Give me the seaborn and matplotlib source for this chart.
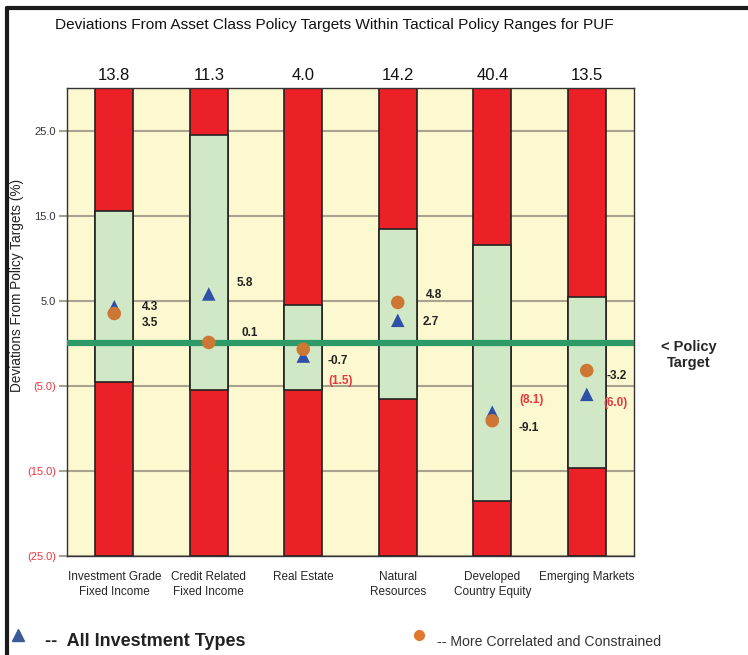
import numpy as np
import pandas as pd
from matplotlib import pyplot as plt
from matplotlib.lines import Line2D
import seaborn as sns

# --- data ---
categories = ['Investment Grade\nFixed Income', 'Credit Related\nFixed Income', 'Real Estate',
              'Natural\nResources', 'Developed\nCountry Equity', 'Emerging Markets']
top_values = ['13.8', '11.3', '4.0', '14.2', '40.4', '13.5']
range_low = [-4.5, -5.5, -5.5, -6.6, -18.5, -14.6]
range_high = [15.5, 24.5, 4.5, 13.4, 11.5, 5.4]
all_types = [4.3, 5.8, -1.5, 2.7, -8.1, -6.0]
correlated = [3.5, 0.1, -0.7, 4.8, -9.1, -3.2]
y_ticks = [25, 15, 5, -5, -15, -25]
y_min, y_max = -25, 30

# label offsets in pixels (dx, dy) from each marker
tri_offsets = [(36, 0), (36, 11), (37, -25), (33, -2), (39, 12), (29, -9)]
circ_offsets = [(36, -9), (41, 9), (34, -12), (36, 7), (36, -7), (30, -5)]

RED = '#EC2027'
GREEN_FILL = '#D1E8C6'
BG = '#FCF8D0'
LINE_GREEN = '#2E9A68'
BLUE = '#3050A8'
ORANGE = '#CC7733'
GRID = '#A8A28E'
NEG_RED = '#E8383D'
SANS = ['Liberation Sans', 'DejaVu Sans']

sns.set_style('white')
plt.rcParams['font.family'] = SANS

df = pd.DataFrame({'cat': categories, 'low': range_low, 'high': range_high,
                   'all': all_types, 'corr': correlated})
df['pos'] = np.arange(len(df))

fig = plt.figure(figsize=(7.48, 6.55), dpi=100)
ax = fig.add_axes([0.0896, 0.1511, 0.758, 0.7145])
ax.set_facecolor(BG)

# red full column, then green tactical range on top
ax.bar(df['pos'], y_max - y_min, bottom=y_min, width=0.40, color=RED,
       edgecolor='#222222', linewidth=1.2, zorder=2)
ax.bar(df['pos'], df['high'] - df['low'], bottom=df['low'], width=0.40, color=GREEN_FILL,
       edgecolor='#222222', linewidth=1.2, zorder=2)

ax.axhline(0, color=LINE_GREEN, lw=4.5, zorder=3)

sns.scatterplot(x=df['pos'], y=df['all'], marker='^', s=95, color=BLUE,
                edgecolor='none', linewidth=0, zorder=4, ax=ax)
sns.scatterplot(x=df['pos'], y=df['corr'], marker='o', s=95, color=ORANGE,
                edgecolor='none', linewidth=0, zorder=5, ax=ax)

# value labels
for i, row in df.iterrows():
    v = row['all']
    txt = f'({abs(v):.1f})' if v < 0 else f'{v:.1f}'
    col = NEG_RED if v < 0 else '#222222'
    ax.annotate(txt, (row['pos'], v), xytext=tri_offsets[i], textcoords='offset pixels',
                ha='center', va='center', fontsize=8.5, fontweight='bold', color=col, zorder=6)
    c = row['corr']
    ax.annotate(f'{c:.1f}', (row['pos'], c), xytext=circ_offsets[i], textcoords='offset pixels',
                ha='center', va='center', fontsize=8.5, fontweight='bold', color='#222222', zorder=6)
    ax.annotate(top_values[i], (row['pos'], y_max), xytext=(0, 5), textcoords='offset pixels',
                ha='center', va='bottom', fontsize=12, color='#111111', annotation_clip=False)

ax.set_xlim(-0.5, len(df) - 0.5)
ax.set_ylim(y_min, y_max)
ax.set_yticks(y_ticks)
ax.set_yticklabels([f'{t:.1f}' if t > 0 else f'({abs(t):.1f})' for t in y_ticks])
for lab, t in zip(ax.get_yticklabels(), y_ticks):
    lab.set_color('#333333' if t > 0 else NEG_RED)
ax.yaxis.grid(True, color=GRID, lw=1.5, zorder=1)
ax.set_axisbelow(True)
ax.tick_params(axis='y', length=6, width=1.5, color=GRID, labelsize=8, pad=2, left=True)
ax.set_xticks(df['pos'])
ax.set_xticklabels(categories, fontsize=8.5, linespacing=1.3)
ax.tick_params(axis='x', length=0, pad=11)
ax.set_xlabel('')
ax.set_ylabel('')
for s in ax.spines.values():
    s.set_color('#333333')
    s.set_linewidth(1.0)

fig.text(17 / 748, 1 - 285 / 655, 'Deviations From Policy Targets (%)', rotation=90,
         ha='center', va='center', fontsize=9.8, color='#222222')

fig.text(55 / 748, 1 - 25 / 655, 'Deviations From Asset Class Policy Targets Within Tactical Policy Ranges for PUF',
         ha='left', va='center', fontsize=11.1, color='#111111')

fig.text(689 / 748, 1 - 355 / 655, '< Policy\nTarget', ha='center', va='center',
         fontsize=10.5, fontweight='bold', linespacing=1.1)

# legend at the bottom
fig.add_artist(Line2D([18 / 748], [1 - 635 / 655], marker='^', markersize=8, color='#3A5A98',
                      linestyle='none', transform=fig.transFigure))
fig.text(45 / 748, 1 - 642 / 655, '--  All Investment Types', ha='left', va='center',
         fontsize=13, fontweight='bold', color='#222222')
fig.add_artist(Line2D([419 / 748], [1 - 635 / 655], marker='o', markersize=7, color='#E07830',
                      linestyle='none', transform=fig.transFigure))
fig.text(437 / 748, 1 - 642 / 655, '-- More Correlated and Constrained', ha='left', va='center',
         fontsize=10.2, color='#333333')

# frame lines at the top and left edge
fig.add_artist(Line2D([7 / 748, 1.0], [1 - 8 / 655, 1 - 8 / 655], color='#1a1a1a', lw=3,
                      transform=fig.transFigure))
fig.add_artist(Line2D([7 / 748, 7 / 748], [1 - 8 / 655, 0.0], color='#1a1a1a', lw=3,
                      transform=fig.transFigure))

fig.savefig('out.png', dpi=100)
